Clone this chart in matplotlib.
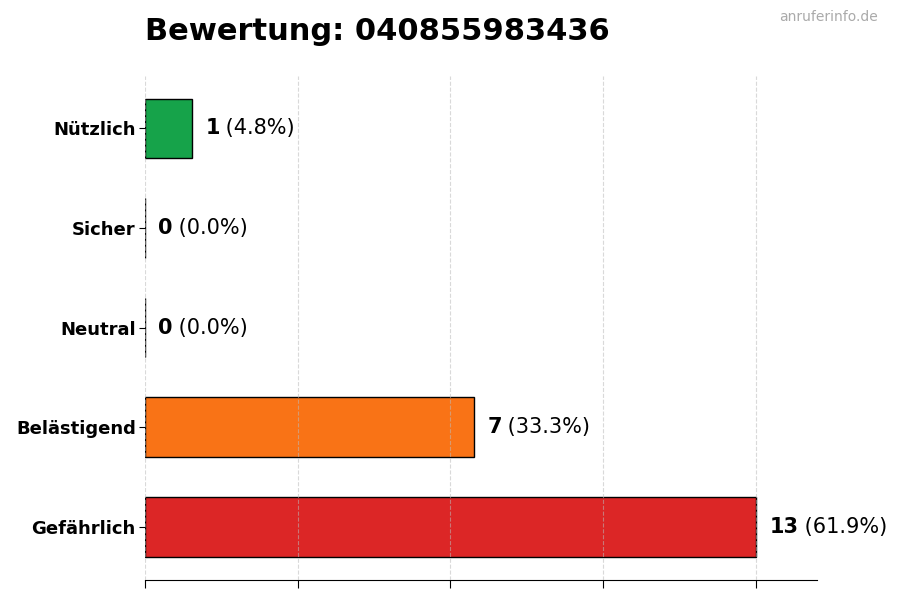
import matplotlib
matplotlib.use("Agg")
import matplotlib.pyplot as plt
import numpy as np

categories = ["Gefährlich", "Belästigend", "Neutral", "Sicher", "Nützlich"]
values = [13, 7, 0, 0, 1]
colors = ["#dc2626", "#f97316", "#6b7280", "#3b82f6", "#16a34a"]
title = "Bewertung: 040855983436"
watermark = "anruferinfo.de"

total = sum(values)
xmax = max(values)

fig = plt.figure(figsize=(9, 6), dpi=100)
ax = fig.add_axes([0.161, 0.034, 0.747, 0.84])
y = np.arange(len(categories))
ax.barh(y, values, height=0.6, color=colors, edgecolor="black", linewidth=1, zorder=2)
ax.set_xlim(0, xmax * 1.1)
ax.set_xticks(np.linspace(0, xmax, 5))
ax.set_xticklabels([])
ax.set_yticks(y)
ax.set_yticklabels(categories, fontsize=13, fontweight="bold")
ax.tick_params(axis="x", length=6)
ax.tick_params(axis="y", length=4, pad=2.5)
for s in ["top", "right", "left"]:
    ax.spines[s].set_visible(False)
ax.grid(axis="x", linestyle="--", color="#bbbbbb", alpha=0.55, zorder=3)
ax.set_axisbelow(False)

fig.canvas.draw()
off = xmax * 1.1 * 0.02
for yi, v in zip(y, values):
    t1 = ax.text(v + off, yi, f"{v}", fontsize=15, fontweight="bold", va="center", ha="left")
    pct = 100 * v / total if total else 0
    ax.annotate(f" ({pct:.1f}%)", xy=(1, 0.5), xycoords=t1, va="center", ha="left",
                fontsize=15, xytext=(-0.5, 0), textcoords="offset points")

fig.text(0.161, 0.948, title, fontsize=22, fontweight="bold", ha="left", va="center")
fig.text(0.975, 0.971, watermark, fontsize=10, color="#aaaaaa", ha="right", va="center")

fig.savefig("out.png", dpi=100)
